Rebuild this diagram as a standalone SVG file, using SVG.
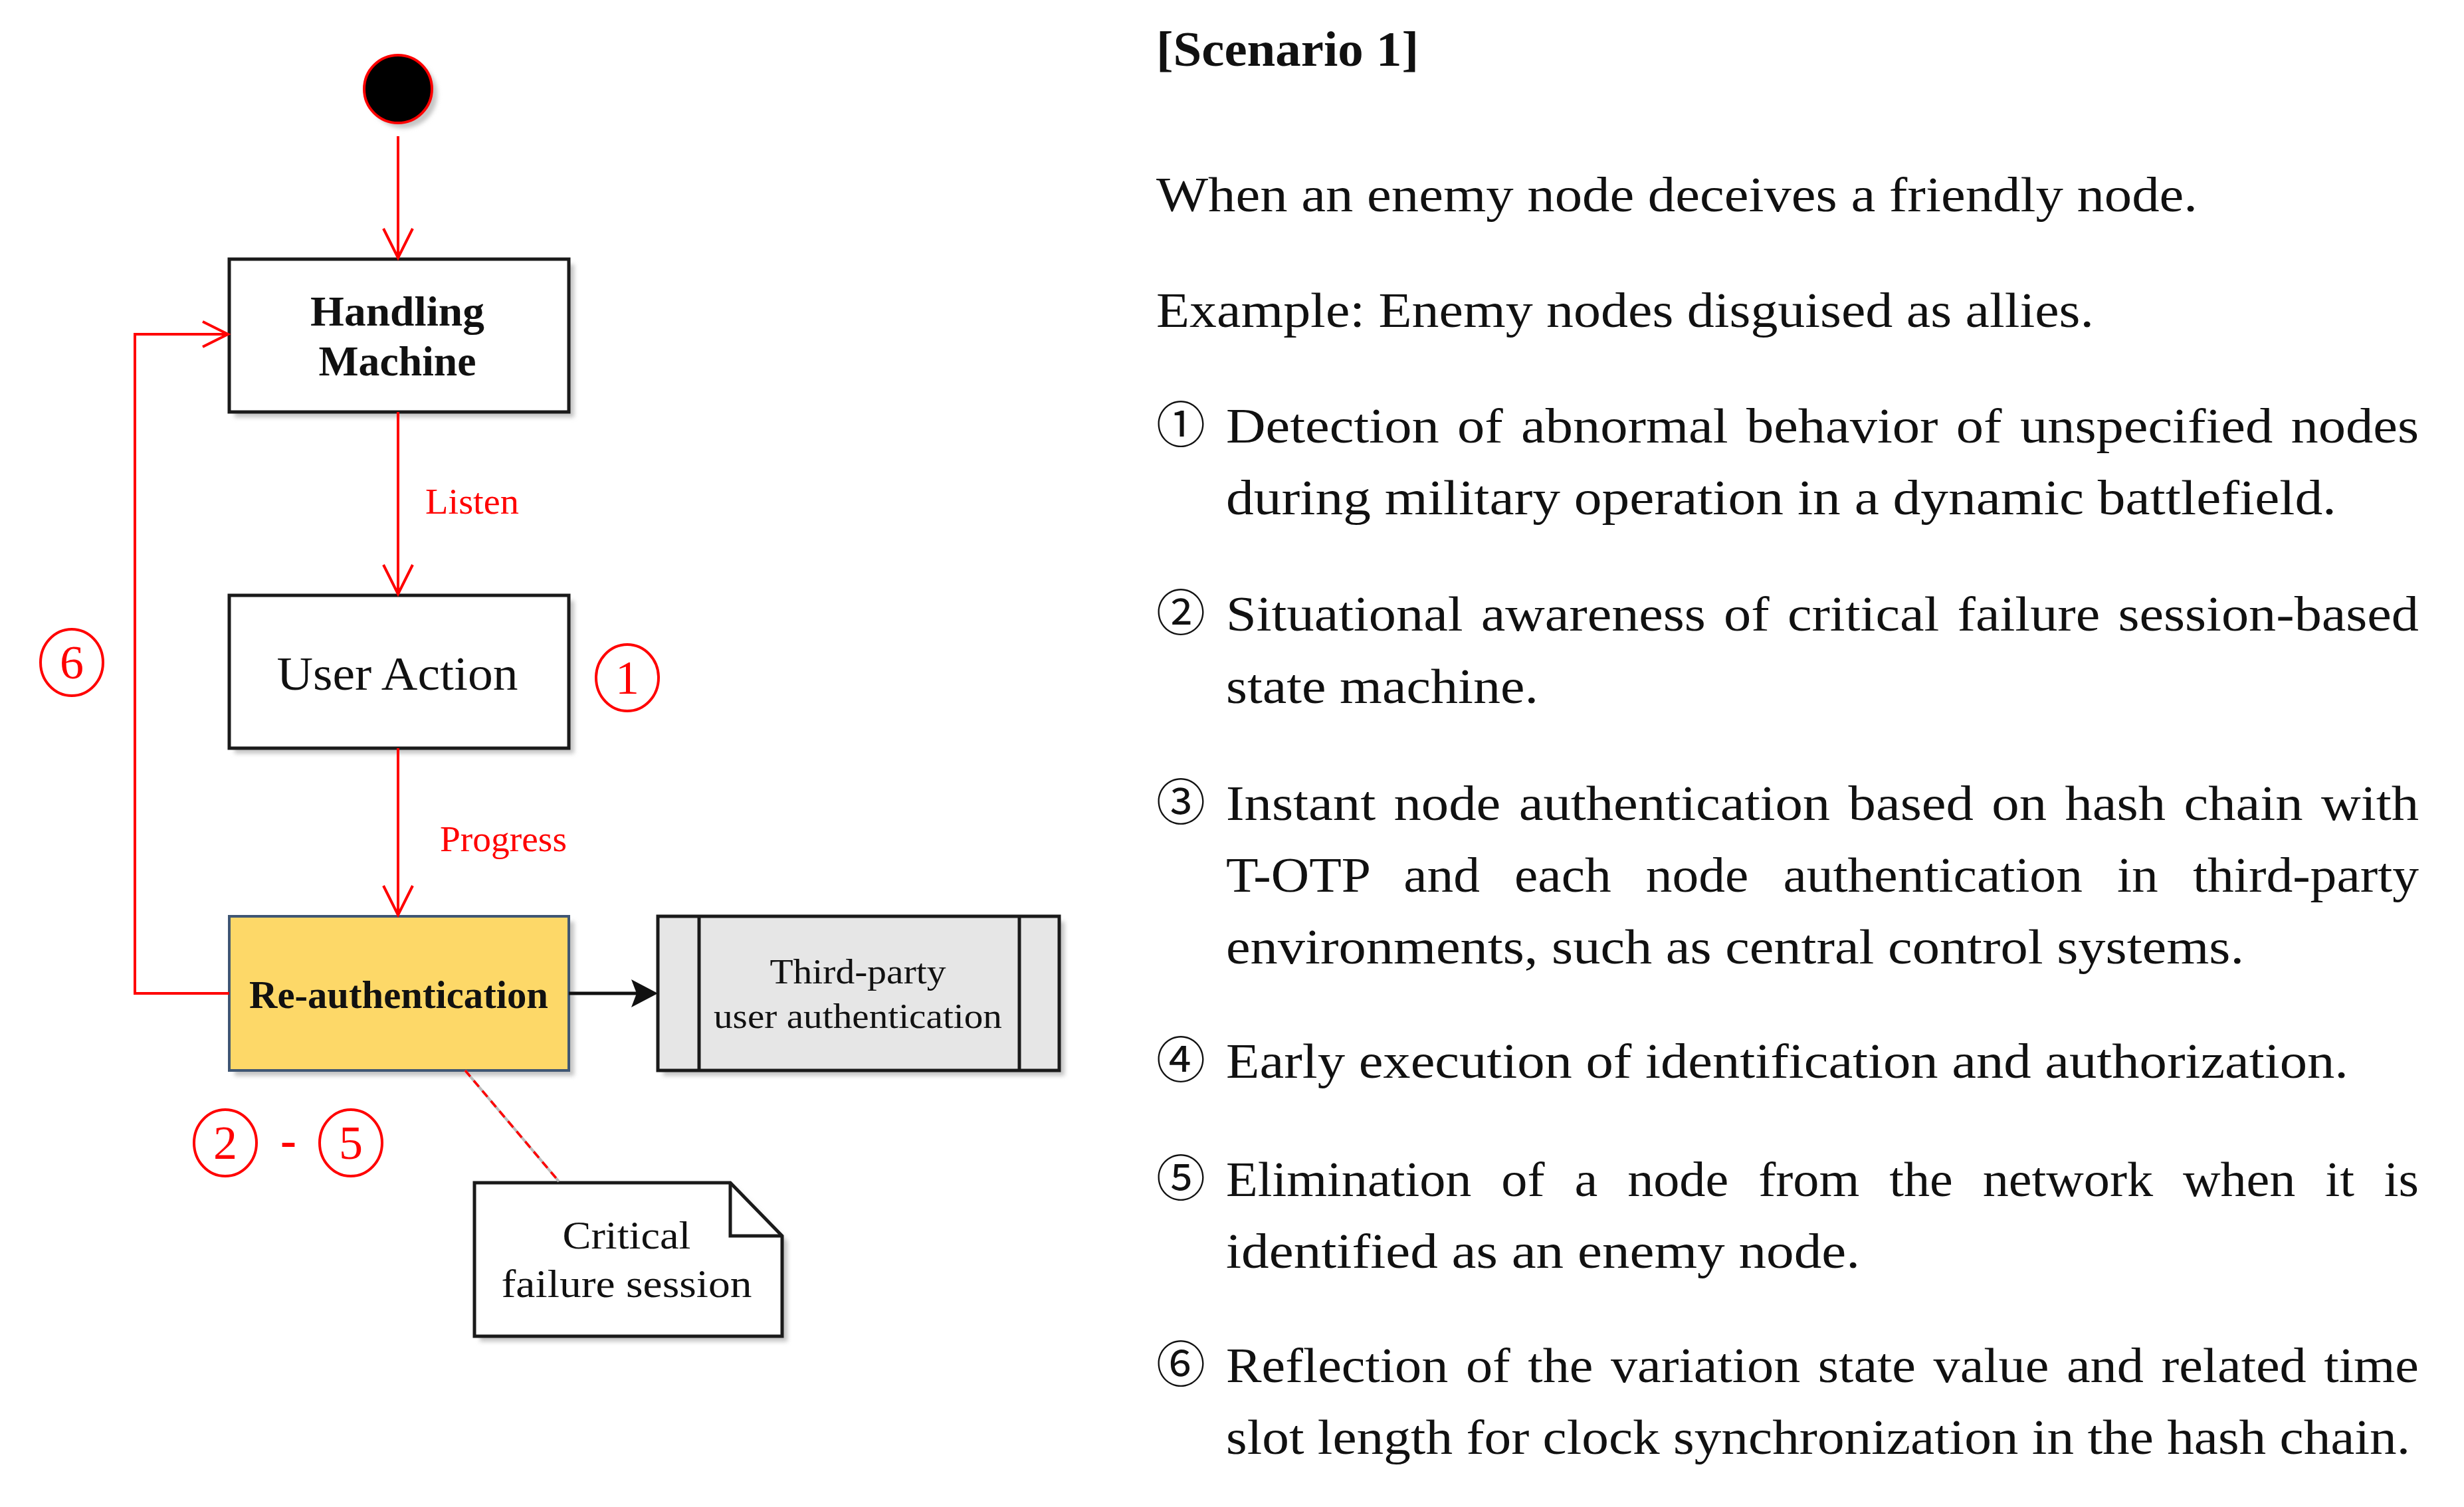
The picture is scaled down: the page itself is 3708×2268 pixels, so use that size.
<svg xmlns="http://www.w3.org/2000/svg" width="3708" height="2268" viewBox="0 0 3708 2268">
<style>
.box{fill:#fff;stroke:#1a1a1a;stroke-width:5}
.shadow{fill:#c4c4c4;filter:url(#blur)}
.red{stroke:#ff0000;stroke-width:4;fill:none}
.lbl{font-family:"Liberation Serif",serif;fill:#111}
.rlbl{font-family:"Liberation Serif",serif;fill:#ff0000}
.body{font-family:"Liberation Serif",serif;font-size:74px;fill:#111}
.just{word-spacing:6px}
.num{font-family:"Noto Sans CJK JP","DejaVu Sans",sans-serif;font-size:74px;fill:#111}
.cnum{fill:none;stroke:#ff0000;stroke-width:4}
</style>
<defs>
<filter id="blur" x="-10%" y="-10%" width="120%" height="120%"><feGaussianBlur stdDeviation="3"/></filter>
</defs>
<rect width="3708" height="2268" fill="#fff"/>

<g id="start">
<circle cx="607" cy="142" r="51" class="shadow"/>
<circle cx="599" cy="134" r="51" fill="#000" stroke="#ff0000" stroke-width="4"/>
</g>

<g id="handling-machine">
<rect x="353" y="398" width="511" height="230" class="shadow"/>
<rect x="345" y="390" width="511" height="230" class="box"/>
<text class="lbl" x="598" y="490" font-size="64" font-weight="bold" text-anchor="middle" textLength="262" lengthAdjust="spacingAndGlyphs">Handling</text>
<text class="lbl" x="598" y="565" font-size="64" font-weight="bold" text-anchor="middle" textLength="237" lengthAdjust="spacingAndGlyphs">Machine</text>
</g>

<g id="user-action">
<rect x="353" y="904" width="511" height="230" class="shadow"/>
<rect x="345" y="896" width="511" height="230" class="box"/>
<text class="lbl" x="598" y="1038" font-size="72" text-anchor="middle" textLength="363" lengthAdjust="spacingAndGlyphs">User Action</text>
</g>

<g id="re-authentication">
<rect x="353" y="1387" width="511" height="232" class="shadow"/>
<rect x="345" y="1379" width="511" height="232" fill="#fdd868" stroke="#3f5673" stroke-width="4"/>
<text class="lbl" x="600" y="1517" font-size="59" font-weight="bold" text-anchor="middle" textLength="450" lengthAdjust="spacingAndGlyphs">Re-authentication</text>
</g>

<g id="third-party">
<rect x="998" y="1387" width="604" height="232" class="shadow"/>
<rect x="990" y="1379" width="604" height="232" fill="#e6e6e6" stroke="#1a1a1a" stroke-width="5"/>
<line x1="1052" y1="1379" x2="1052" y2="1611" stroke="#1a1a1a" stroke-width="5"/>
<line x1="1534" y1="1379" x2="1534" y2="1611" stroke="#1a1a1a" stroke-width="5"/>
<text class="lbl" x="1291" y="1480" font-size="52" text-anchor="middle" textLength="265" lengthAdjust="spacingAndGlyphs">Third-party</text>
<text class="lbl" x="1291" y="1547" font-size="52" text-anchor="middle" textLength="434" lengthAdjust="spacingAndGlyphs">user authentication</text>
</g>

<g id="critical-failure-session">
<path d="M722 1788 H1107 L1185 1868 V2019 H722 Z" class="shadow"/>
<path d="M714 1780 H1099 L1177 1860 V2011 H714 Z" fill="#fff" stroke="#1a1a1a" stroke-width="5" stroke-linejoin="miter"/>
<path d="M1099 1780 V1860 H1177" fill="none" stroke="#1a1a1a" stroke-width="5"/>
<text class="lbl" x="943" y="1879" font-size="60" text-anchor="middle" textLength="193" lengthAdjust="spacingAndGlyphs">Critical</text>
<text class="lbl" x="943" y="1952" font-size="60" text-anchor="middle" textLength="377" lengthAdjust="spacingAndGlyphs">failure session</text>
</g>

<g id="connectors">
<line x1="599" y1="205" x2="599" y2="388" class="red"/>
<polyline points="577,344 599,388 621,344" class="red"/>
<line x1="599" y1="620" x2="599" y2="894" class="red"/>
<polyline points="577,850 599,894 621,850" class="red"/>
<line x1="599" y1="1126" x2="599" y2="1377" class="red"/>
<polyline points="577,1333 599,1377 621,1333" class="red"/>
<polyline points="345,1495 203,1495 203,503 343,503" class="red"/>
<polyline points="305,484 343,503 305,522" class="red"/>
<line x1="856" y1="1495" x2="960" y2="1495" stroke="#111" stroke-width="5"/>
<path d="M990 1495 L950 1474 L958 1495 L950 1516 Z" fill="#111"/>
<line x1="700" y1="1611" x2="841" y2="1778" stroke="#bbbbbb" stroke-width="4"/>
<line x1="700" y1="1611" x2="841" y2="1778" stroke="#ff0000" stroke-width="3.5" stroke-dasharray="12 8"/>
<text class="rlbl" x="640" y="773" font-size="55" textLength="141" lengthAdjust="spacingAndGlyphs">Listen</text>
<text class="rlbl" x="662" y="1281" font-size="55" textLength="191" lengthAdjust="spacingAndGlyphs">Progress</text>
</g>

<g id="markers">
<ellipse cx="944" cy="1020" rx="47" ry="50" class="cnum"/>
<text class="rlbl" x="944" y="1044" font-size="72" text-anchor="middle">1</text>
<ellipse cx="108" cy="997" rx="47" ry="50" class="cnum"/>
<text class="rlbl" x="108" y="1021" font-size="72" text-anchor="middle">6</text>
<ellipse cx="339" cy="1720" rx="47" ry="50" class="cnum"/>
<text class="rlbl" x="339" y="1744" font-size="72" text-anchor="middle">2</text>
<text class="rlbl" x="434" y="1740" font-size="72" font-weight="bold" text-anchor="middle">-</text>
<ellipse cx="528" cy="1720" rx="47" ry="50" class="cnum"/>
<text class="rlbl" x="528" y="1744" font-size="72" text-anchor="middle">5</text>
</g>

<g id="scenario-text">
<text class="body" x="1740" y="99" font-size="66" font-weight="bold" textLength="395" lengthAdjust="spacingAndGlyphs">[Scenario 1]</text>
<text class="body" x="1740" y="318" textLength="1567" lengthAdjust="spacingAndGlyphs">When an enemy node deceives a friendly node.</text>
<text class="body" x="1740" y="492" textLength="1411" lengthAdjust="spacingAndGlyphs">Example: Enemy nodes disguised as allies.</text>

<text class="num" x="1740" y="666">①</text>
<text class="body just" x="1845" y="666" textLength="1795" lengthAdjust="spacingAndGlyphs">Detection of abnormal behavior of unspecified nodes</text>
<text class="body" x="1845" y="774" textLength="1671" lengthAdjust="spacingAndGlyphs">during military operation in a dynamic battlefield.</text>

<text class="num" x="1740" y="949">②</text>
<text class="body just" x="1845" y="949" textLength="1795" lengthAdjust="spacingAndGlyphs">Situational awareness of critical failure session-based</text>
<text class="body" x="1845" y="1058" textLength="470" lengthAdjust="spacingAndGlyphs">state machine.</text>

<text class="num" x="1740" y="1234">③</text>
<text class="body just" x="1845" y="1234" textLength="1795" lengthAdjust="spacingAndGlyphs">Instant node authentication based on hash chain with</text>
<text class="body" x="1845" y="1342" textLength="1795" lengthAdjust="spacingAndGlyphs" style="word-spacing:30px">T-OTP and each node authentication in third-party</text>
<text class="body" x="1845" y="1450" textLength="1532" lengthAdjust="spacingAndGlyphs">environments, such as central control systems.</text>

<text class="num" x="1740" y="1622">④</text>
<text class="body" x="1845" y="1622" textLength="1689" lengthAdjust="spacingAndGlyphs">Early execution of identification and authorization.</text>

<text class="num" x="1740" y="1800">⑤</text>
<text class="body" x="1845" y="1800" textLength="1795" lengthAdjust="spacingAndGlyphs" style="word-spacing:24px">Elimination of a node from the network when it is</text>
<text class="body" x="1845" y="1908" textLength="954" lengthAdjust="spacingAndGlyphs">identified as an enemy node.</text>

<text class="num" x="1740" y="2080">⑥</text>
<text class="body just" x="1845" y="2080" textLength="1795" lengthAdjust="spacingAndGlyphs">Reflection of the variation state value and related time</text>
<text class="body" x="1845" y="2188" textLength="1782" lengthAdjust="spacingAndGlyphs">slot length for clock synchronization in the hash chain.</text>
</g>
</svg>
